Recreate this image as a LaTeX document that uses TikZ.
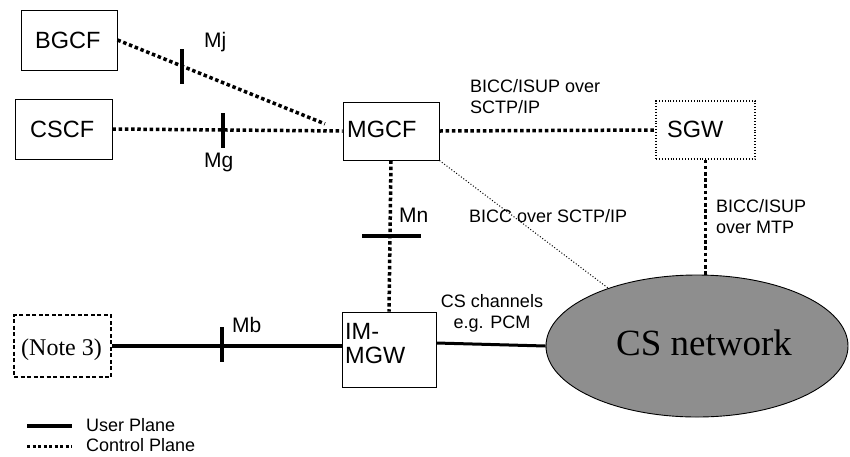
\documentclass[tikz,border=0pt]{standalone}
\usepackage{fontspec}
\setmainfont{Liberation Sans}
\newfontfamily\timesf{Liberation Serif}
\usetikzlibrary{shapes.geometric}
\definecolor{csgray}{RGB}{142,142,142}
\begin{document}
\begin{tikzpicture}[x=1pt,y=-1pt,
  box/.style={draw,line width=0.9pt,rectangle,inner sep=0pt},
  boxtext/.style={inner sep=0pt,anchor=base west,font=\fontsize{23.5}{23.5}\selectfont},
  ctrl/.style={line width=3.5pt,dash pattern=on 3.5pt off 2.7pt},
  user/.style={line width=4pt},
  tick/.style={line width=4pt},
  lbl/.style={inner sep=0pt,anchor=base west,font=\fontsize{18}{20.5}\selectfont},
  ifl/.style={inner sep=0pt,anchor=base west,font=\fontsize{21}{21}\selectfont},
]
\useasboundingbox (0,0) rectangle (850,456);
% boxes
\node[box,minimum width=96pt,minimum height=60pt] (bgcf) at (69,40) {};
\node[boxtext] (bgcft) at (35,48) {BGCF};
\node[box,minimum width=97pt,minimum height=60pt] (cscf) at (63.5,129) {};
\node[boxtext] (cscft) at (30,137) {CSCF};
\node[box,minimum width=96pt,minimum height=58pt] (mgcf) at (391,131) {};
\node[boxtext] (mgcft) at (347,137) {MGCF};
\node[box,dotted,line width=1.3pt,minimum width=99pt,minimum height=58pt] (sgw) at (705.5,130) {};
\node[boxtext] (sgwt) at (667,137) {SGW};
\node[box,line width=1.3pt,dash pattern=on 4pt off 2.5pt,minimum width=97pt,minimum height=62pt] (note) at (62.5,346) {};
\node[boxtext,font=\timesf\fontsize{24}{24}\selectfont] (notet) at (21,355) {(Note 3)};
\node[box,minimum width=94pt,minimum height=75pt] (mgw) at (389,349.5) {};
\node[boxtext,font=\fontsize{23.5}{24}\selectfont,align=left] (mgwt) at (345,363) {IM-\\MGW};
\node[draw,line width=0.9pt,fill=csgray,ellipse,inner sep=0pt,minimum width=302pt,minimum height=142pt] (cs) at (697,346) {};
\node[inner sep=0pt,anchor=base,font=\timesf\fontsize{37}{37}\selectfont] (cst) at (704,355) {CS network};
% connectors
\draw[ctrl,shorten >=19pt] (bgcf.east) -- (mgcf.west);
\draw[ctrl] (cscf.east) -- (mgcf.west);
\draw[ctrl] (mgcf.east) -- (sgw.west);
\draw[ctrl] (mgcf.south) -- (mgw.north);
\draw[ctrl] (sgw.south) -- (sgw.south |- cs.north);
\coordinate (thinend) at (608,288);
\draw[line width=1pt,dotted] (mgcf.south east) -- (thinend);
\draw[user] (note.east) -- (mgw.west |- note.east);
\draw[line width=3pt] (mgw.east |- 0,343) -- (cs.west);
% ticks
\draw[tick] (182,49) -- (182,84);
\draw[tick] (223,113) -- (223,148);
\draw[tick] (362,236) -- (421,236);
\draw[tick] (222,327) -- (222,362);
% labels
\node[ifl] (mj) at (204,47) {Mj};
\node[ifl] (mg) at (204,167) {Mg};
\node[ifl] (mn) at (399,222) {Mn};
\node[ifl] (mb) at (232,332) {Mb};
\node[lbl,align=left] (l1) at (470,113) {BICC/ISUP over\\SCTP/IP};
\node[lbl] (l2) at (469,222) {BICC over SCTP/IP};
\node[lbl,align=left] (l3) at (716,233) {BICC/ISUP\\over MTP};
\node[lbl,align=center,anchor=base] (l4) at (492,328) {CS channels\\e.g. PCM};
% legend
\coordinate (ua) at (27,426); \coordinate (ub) at (72,426);
\draw[line width=4pt] (ua) -- (ub);
\coordinate (ca) at (27,446); \coordinate (cb) at (72,446);
\draw[line width=3pt,dash pattern=on 3pt off 2.5pt] (ca) -- (cb);
\node[lbl] (lu) at (86,431) {User Plane};
\node[lbl] (lc) at (86,451) {Control Plane};
\end{tikzpicture}
\end{document}
